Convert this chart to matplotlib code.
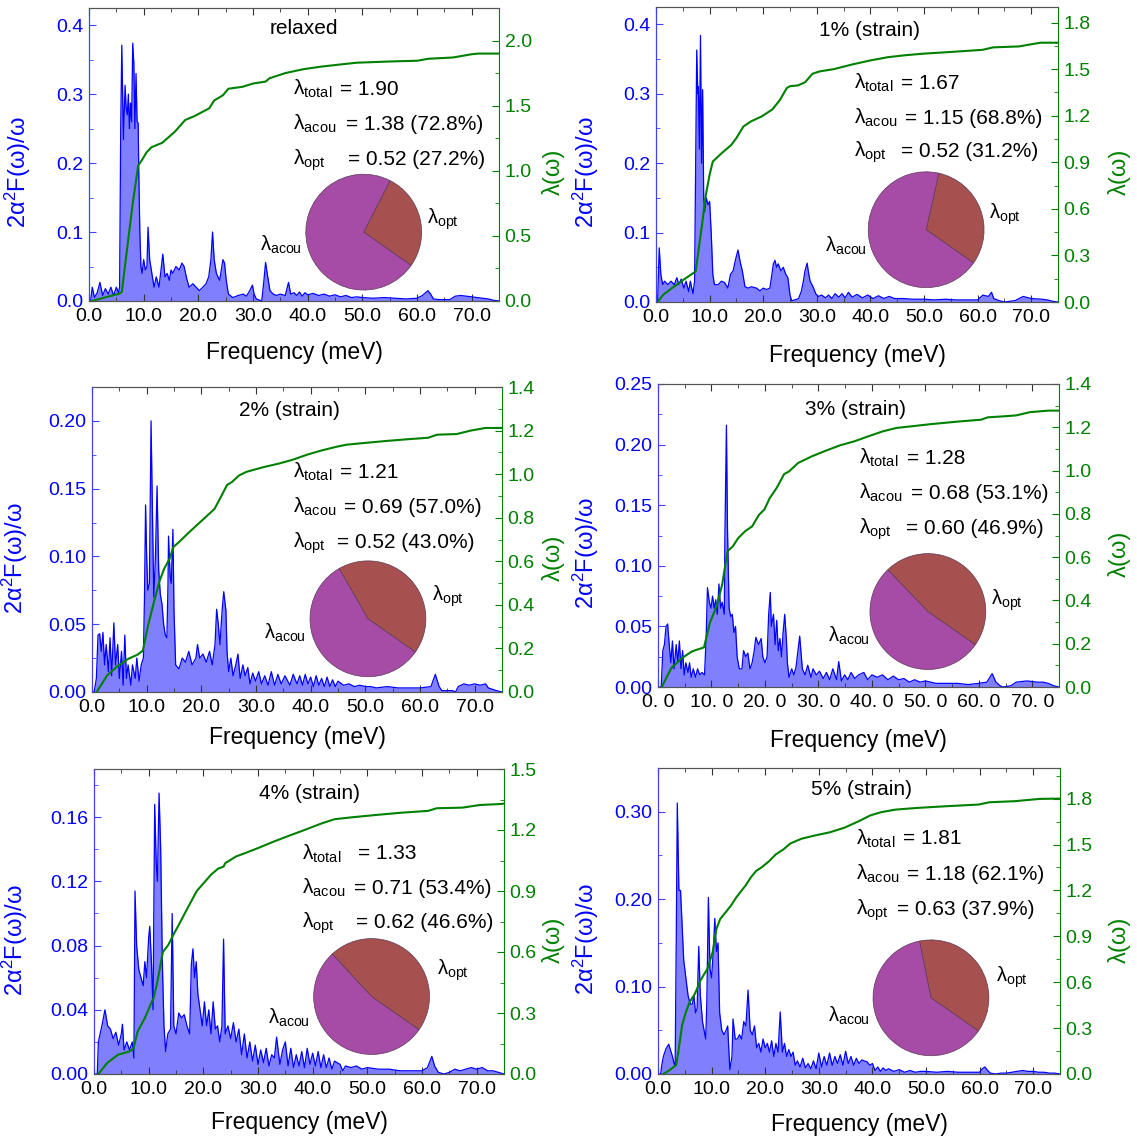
import matplotlib
matplotlib.use('Agg')
import matplotlib.pyplot as plt
from matplotlib.ticker import MultipleLocator, FormatStrFormatter, FuncFormatter

plt.rcParams.update({
    'font.family': ['Liberation Sans', 'DejaVu Sans'],
    'mathtext.fontset': 'custom',
    'mathtext.rm': 'Liberation Sans',
    'mathtext.it': 'Liberation Sans:italic',
    'mathtext.bf': 'Liberation Sans:bold',
})

W, H = 1137, 1138
BLUE_LINE = '#0000ff'
BLUE_FILL = '#8080ff'
BLUE_SPINE = '#4040ff'
GREEN = '#008000'
ACOU_C = '#a64ca6'
OPT_C = '#a6504f'

# ── data ──────────────────────────────────────────────────────────────────────

# relaxed
f_relaxed = [0.0, 0.3, 0.6, 1.0, 1.5, 2.0, 2.5, 3.0, 3.5, 4.0,
             4.5, 5.0, 5.4, 5.6, 5.8, 6.0, 6.3, 6.6, 6.8, 7.0,
             7.2, 7.4, 7.6, 7.8, 8.0, 8.2, 8.4, 8.6, 8.8, 9.0,
             9.1, 9.3, 9.5, 9.7, 10.0, 10.3, 10.6, 10.8, 11.1, 11.4,
             11.9, 12.3, 12.8, 13.1, 13.5, 13.9, 14.3, 14.7, 15.0, 15.3,
             15.9, 16.5, 17.0, 17.4, 17.8, 18.3, 19.0, 19.6, 20.2, 20.8,
             21.4, 21.9, 22.3, 22.6, 22.9, 23.3, 23.9, 24.5, 24.8, 25.1,
             25.5, 26.3, 27.3, 28.2, 28.8, 29.4, 29.9, 30.2, 30.6, 31.6,
             32.0, 32.3, 32.6, 33.1, 33.7, 34.3, 35.0, 35.9, 36.5, 36.9,
             37.5, 38.0, 38.5, 39.0, 39.5, 40.0, 41.0, 42.0, 43.0, 44.0,
             45.0, 46.0, 47.0, 48.0, 49.0, 50.0, 52.0, 54.0, 56.0, 58.0,
             60.0, 61.0, 62.0, 62.5, 63.0, 64.0, 66.0, 67.0, 68.0, 69.0,
             70.0, 71.0, 72.0, 73.0, 74.0, 75.0]
a2f_relaxed = [0.0, 0.0, 0.02, 0.005, 0.012, 0.027, 0.008, 0.018, 0.01, 0.02,
               0.008, 0.02, 0.012, 0.02, 0.25, 0.371, 0.234, 0.313, 0.28, 0.27,
               0.30, 0.25, 0.287, 0.26, 0.374, 0.345, 0.25, 0.33, 0.26, 0.258,
               0.19, 0.10, 0.05, 0.04, 0.06, 0.045, 0.05, 0.107, 0.06, 0.045,
               0.02, 0.035, 0.02, 0.04, 0.068, 0.035, 0.04, 0.03, 0.045, 0.04,
               0.05, 0.045, 0.055, 0.05, 0.035, 0.02, 0.025, 0.02, 0.015, 0.02,
               0.025, 0.035, 0.06, 0.1, 0.06, 0.04, 0.03, 0.06, 0.055, 0.03,
               0.01, 0.005, 0.008, 0.01, 0.007, 0.015, 0.023, 0.01, 0.003, 0.0,
               0.03, 0.056, 0.04, 0.015, 0.01, 0.008, 0.01, 0.008, 0.027, 0.01,
               0.012, 0.008, 0.013, 0.007, 0.012, 0.009, 0.011, 0.008, 0.01, 0.007,
               0.009, 0.006, 0.008, 0.005, 0.006, 0.005, 0.004, 0.005, 0.004, 0.003,
               0.004, 0.008, 0.015, 0.01, 0.003, 0.002, 0.002, 0.007, 0.008, 0.007,
               0.006, 0.005, 0.004, 0.003, 0.001, 0.0]
lf_relaxed = [0.5, 5.5, 6.0, 7.2, 8.0, 9.0, 9.8, 10.5, 11.4, 13.4,
              15.7, 17.6, 19.3, 22.0, 22.9, 24.5, 25.5, 28.1, 30.0, 32.3,
              33.0, 35.9, 39.2, 42.5, 45.7, 49.0, 52.3, 55.5, 60.1, 62.0,
              66.6, 70.0, 71.2, 75.0]
lam_relaxed = [0.0, 0.056, 0.07, 0.48, 0.75, 1.04, 1.09, 1.14, 1.18, 1.215,
               1.30, 1.39, 1.42, 1.48, 1.54, 1.58, 1.63, 1.645, 1.67, 1.685,
               1.71, 1.75, 1.78, 1.80, 1.815, 1.83, 1.835, 1.84, 1.845, 1.86,
               1.87, 1.895, 1.90, 1.90]

# 1% strain
f_s1 = [0.0, 0.3, 0.6, 0.9, 1.25, 1.6, 2.2, 2.8, 3.4, 3.9,
        4.25, 4.7, 5.2, 5.6, 6.1, 6.4, 6.9, 7.2, 7.4, 7.6,
        7.8, 7.9, 8.1, 8.3, 8.5, 8.7, 8.9, 9.1, 9.4, 9.7,
        10.0, 10.3, 10.6, 10.9, 11.6, 12.2, 12.8, 13.4, 13.9, 14.4,
        14.8, 15.3, 15.7, 16.1, 16.6, 17.2, 17.8, 18.75, 19.4, 20.0,
        20.6, 21.25, 21.9, 22.2, 22.5, 22.8, 23.3, 23.75, 24.2, 24.6,
        25.0, 25.3, 25.9, 26.6, 27.1, 27.5, 27.8, 28.2, 28.4, 28.75,
        29.1, 29.4, 29.8, 30.3, 30.9, 31.6, 32.2, 32.8, 33.4, 34.1,
        34.7, 35.3, 35.9, 36.6, 37.5, 38.5, 39.5, 40.5, 41.5, 42.5,
        43.5, 44.5, 46.0, 48.0, 50.0, 52.0, 54.0, 56.0, 58.0, 60.0,
        61.0, 62.0, 62.6, 63.0, 64.0, 65.0, 67.0, 68.5, 70.0, 72.0,
        73.0, 74.0, 75.0]
a2f_s1 = [0.0, 0.0, 0.078, 0.04, 0.025, 0.03, 0.025, 0.03, 0.025, 0.035,
          0.025, 0.033, 0.02, 0.03, 0.015, 0.03, 0.012, 0.03, 0.2, 0.363,
          0.3, 0.31, 0.22, 0.384, 0.2, 0.306, 0.15, 0.13, 0.15, 0.14,
          0.145, 0.1, 0.04, 0.025, 0.025, 0.03, 0.028, 0.02, 0.04, 0.045,
          0.06, 0.075, 0.058, 0.045, 0.022, 0.02, 0.022, 0.02, 0.016, 0.02,
          0.018, 0.02, 0.055, 0.06, 0.05, 0.055, 0.045, 0.05, 0.04, 0.035,
          0.01, 0.002, 0.003, 0.005, 0.015, 0.03, 0.045, 0.056, 0.045, 0.03,
          0.025, 0.02, 0.012, 0.008, 0.01, 0.006, 0.01, 0.005, 0.012, 0.007,
          0.012, 0.006, 0.014, 0.007, 0.011, 0.006, 0.01, 0.005, 0.009, 0.005,
          0.008, 0.005, 0.005, 0.004, 0.004, 0.003, 0.004, 0.003, 0.003, 0.003,
          0.01, 0.008, 0.014, 0.005, 0.002, 0.0, 0.002, 0.008, 0.005, 0.004,
          0.003, 0.001, 0.0]
lf_s1 = [0.3, 1.35, 3.0, 5.0, 7.4, 8.0, 8.6, 9.25, 10.0, 10.6,
         12.3, 14.0, 15.0, 16.3, 17.7, 19.7, 21.7, 23.1, 24.4, 25.0,
         26.5, 27.8, 29.2, 30.5, 33.2, 36.6, 40.0, 43.3, 46.7, 50.1,
         54.8, 60.9, 62.9, 67.7, 71.7, 75.0]
lam_s1 = [0.0, 0.047, 0.09, 0.14, 0.197, 0.35, 0.5, 0.68, 0.82, 0.905,
          0.96, 1.01, 1.056, 1.13, 1.163, 1.195, 1.24, 1.30, 1.378, 1.39,
          1.395, 1.415, 1.47, 1.485, 1.50, 1.53, 1.556, 1.577, 1.59, 1.60,
          1.61, 1.624, 1.64, 1.646, 1.67, 1.67]

# 2% strain
f_s2 = [0.0, 0.4, 0.8, 1.1, 1.4, 1.7, 2.0, 2.3, 2.6, 3.0,
        3.3, 3.6, 4.0, 4.3, 4.7, 5.0, 5.4, 5.7, 6.0, 6.3,
        6.6, 7.1, 7.4, 7.9, 8.2, 8.6, 9.0, 9.4, 9.6, 9.8,
        10.0, 10.2, 10.5, 10.8, 11.1, 11.3, 11.6, 11.9, 12.2, 12.5,
        12.8, 13.1, 13.4, 13.7, 13.9, 14.0, 14.3, 14.5, 14.8, 15.0,
        15.3, 15.9, 16.5, 17.1, 17.7, 18.3, 19.0, 19.3, 19.7, 20.3,
        20.9, 21.5, 22.0, 22.5, 22.8, 23.1, 23.4, 23.8, 24.1, 24.5,
        24.7, 25.0, 25.4, 25.8, 26.3, 26.7, 27.1, 27.6, 28.0, 28.5,
        28.9, 29.4, 29.9, 30.5, 31.0, 31.6, 32.2, 32.8, 33.4, 34.0,
        34.6, 35.3, 36.2, 36.8, 37.5, 38.0, 38.5, 39.0, 39.5, 40.0,
        40.5, 41.0, 41.5, 42.0, 42.5, 43.0, 43.5, 44.0, 44.5, 45.0,
        46.0, 47.0, 48.0, 49.0, 50.0, 51.0, 52.0, 54.0, 56.0, 58.0,
        60.0, 62.0, 62.8, 63.5, 64.0, 66.0, 66.5, 67.0, 68.0, 69.0,
        70.0, 71.0, 72.0, 72.5, 74.0, 75.0]
a2f_s2 = [0.0, 0.0, 0.01, 0.042, 0.043, 0.03, 0.044, 0.02, 0.035, 0.015,
          0.04, 0.012, 0.051, 0.02, 0.035, 0.01, 0.03, 0.005, 0.042, 0.01,
          0.02, 0.005, 0.02, 0.01, 0.025, 0.008, 0.02, 0.025, 0.07, 0.138,
          0.1, 0.075, 0.08, 0.2, 0.12, 0.07, 0.1, 0.152, 0.09, 0.072,
          0.065, 0.05, 0.042, 0.04, 0.08, 0.115, 0.085, 0.08, 0.12, 0.06,
          0.02, 0.017, 0.025, 0.022, 0.03, 0.02, 0.025, 0.035, 0.025, 0.028,
          0.022, 0.03, 0.02, 0.035, 0.061, 0.05, 0.035, 0.06, 0.074, 0.06,
          0.03, 0.015, 0.025, 0.012, 0.02, 0.028, 0.01, 0.02, 0.012, 0.018,
          0.006, 0.014, 0.008, 0.015, 0.006, 0.012, 0.005, 0.015, 0.005, 0.013,
          0.006, 0.012, 0.005, 0.013, 0.006, 0.012, 0.005, 0.013, 0.006, 0.011,
          0.004, 0.012, 0.005, 0.01, 0.004, 0.011, 0.004, 0.009, 0.004, 0.008,
          0.005, 0.006, 0.004, 0.005, 0.004, 0.004, 0.003, 0.004, 0.003, 0.003,
          0.003, 0.004, 0.013, 0.004, 0.001, 0.001, 0.0, 0.004, 0.006, 0.005,
          0.006, 0.005, 0.006, 0.003, 0.001, 0.0]
lf_s2 = [0.85, 2.8, 4.8, 6.7, 8.3, 9.3, 10.3, 11.3, 12.3, 13.2,
         14.2, 14.9, 15.9, 17.8, 19.8, 21.1, 22.4, 23.4, 24.7, 25.6,
         26.9, 28.2, 29.6, 31.5, 34.1, 36.7, 39.3, 41.9, 44.6, 46.5,
         49.8, 53.7, 57.6, 61.5, 63.1, 66.7, 69.3, 72.0, 75.0]
lam_s2 = [0.0, 0.077, 0.122, 0.153, 0.171, 0.19, 0.31, 0.41, 0.505, 0.566,
          0.612, 0.666, 0.688, 0.734, 0.78, 0.81, 0.84, 0.887, 0.95, 0.964,
          0.994, 1.01, 1.02, 1.033, 1.048, 1.066, 1.089, 1.108, 1.125, 1.135,
          1.143, 1.152, 1.16, 1.167, 1.181, 1.184, 1.20, 1.212, 1.212]

# 3% strain
f_s3 = [0.0, 0.6, 0.9, 1.2, 1.5, 1.8, 2.1, 2.4, 2.7, 3.0,
        3.4, 3.7, 4.0, 4.3, 4.6, 4.9, 5.2, 5.6, 5.9, 6.2,
        6.6, 7.0, 7.4, 7.8, 8.2, 8.7, 9.0, 9.25, 9.6, 9.9,
        10.2, 10.5, 10.8, 11.1, 11.4, 11.7, 12.0, 12.4, 12.5, 12.8,
        13.0, 13.3, 13.6, 13.9, 14.2, 14.5, 14.8, 15.2, 15.7, 16.0,
        16.4, 16.8, 17.2, 17.6, 18.0, 18.3, 18.8, 19.3, 19.6, 20.0,
        20.4, 20.7, 21.0, 21.2, 21.6, 21.9, 22.2, 22.5, 22.8, 23.1,
        23.4, 23.7, 24.0, 24.2, 24.5, 25.0, 25.4, 25.8, 26.5, 27.0,
        27.5, 28.0, 28.6, 29.0, 29.6, 30.2, 30.9, 31.5, 32.1, 32.7,
        33.4, 33.8, 34.3, 34.9, 35.5, 36.1, 36.8, 37.5, 38.5, 39.2,
        40.0, 41.0, 42.0, 43.0, 44.0, 45.0, 46.0, 47.0, 48.0, 49.0,
        50.0, 52.0, 54.0, 56.0, 58.0, 60.0, 61.5, 62.5, 63.2, 64.0,
        64.5, 66.0, 67.0, 69.0, 71.0, 72.0, 73.0, 74.0, 75.0]
a2f_s3 = [0.0, 0.0, 0.03, 0.035, 0.05, 0.052, 0.035, 0.02, 0.038, 0.015,
          0.035, 0.02, 0.038, 0.015, 0.03, 0.01, 0.02, 0.012, 0.02, 0.008,
          0.015, 0.008, 0.015, 0.01, 0.012, 0.01, 0.04, 0.082, 0.07, 0.065,
          0.075, 0.065, 0.072, 0.06, 0.085, 0.065, 0.07, 0.06, 0.12, 0.216,
          0.13, 0.065, 0.058, 0.06, 0.045, 0.05, 0.025, 0.015, 0.015, 0.03,
          0.025, 0.028, 0.015, 0.02, 0.03, 0.041, 0.035, 0.04, 0.025, 0.02,
          0.025, 0.06, 0.078, 0.05, 0.06, 0.035, 0.055, 0.03, 0.04, 0.025,
          0.045, 0.06, 0.04, 0.02, 0.008, 0.015, 0.01, 0.016, 0.042, 0.015,
          0.01, 0.018, 0.008, 0.015, 0.01, 0.013, 0.007, 0.012, 0.006, 0.015,
          0.006, 0.021, 0.005, 0.01, 0.006, 0.012, 0.007, 0.01, 0.012, 0.006,
          0.01, 0.008, 0.01, 0.006, 0.009, 0.006, 0.007, 0.004, 0.006, 0.004,
          0.005, 0.003, 0.003, 0.003, 0.002, 0.003, 0.004, 0.011, 0.004, 0.001,
          0.0, 0.001, 0.004, 0.005, 0.004, 0.004, 0.003, 0.001, 0.0]
lf_s3 = [0.7, 2.5, 4.5, 6.4, 8.6, 9.7, 11.05, 12.0, 12.5, 13.0,
         14.0, 15.0, 16.3, 17.6, 18.9, 19.9, 20.9, 22.2, 23.6, 24.5,
         26.2, 28.8, 31.4, 34.1, 36.7, 39.3, 42.0, 44.6, 47.2, 51.2,
         56.4, 60.4, 61.7, 64.3, 67.0, 69.6, 73.0, 75.0]
lam_s3 = [0.0, 0.088, 0.134, 0.165, 0.183, 0.296, 0.38, 0.473, 0.55, 0.627,
          0.65, 0.688, 0.72, 0.742, 0.796, 0.82, 0.873, 0.92, 0.984, 0.996,
          1.035, 1.066, 1.092, 1.117, 1.135, 1.158, 1.181, 1.197, 1.204, 1.215,
          1.227, 1.235, 1.246, 1.25, 1.255, 1.27, 1.277, 1.277]

# 4% strain
f_s4 = [0.0, 0.6, 0.8, 1.5, 2.0, 2.5, 3.0, 3.5, 4.0, 4.5,
        5.0, 5.2, 5.5, 6.0, 6.5, 7.0, 7.3, 7.5, 7.8, 8.2,
        8.6, 9.0, 9.3, 9.6, 10.0, 10.2, 10.5, 10.8, 11.1, 11.4,
        11.6, 11.9, 12.2, 12.5, 12.8, 13.1, 13.5, 14.0, 14.3, 14.6,
        15.0, 15.5, 16.0, 16.5, 17.0, 17.5, 17.8, 18.1, 18.4, 18.7,
        19.0, 19.4, 19.8, 20.2, 20.6, 21.0, 21.4, 21.8, 22.2, 22.6,
        23.0, 23.4, 23.7, 24.0, 24.5, 25.0, 25.5, 26.0, 26.5, 27.0,
        27.5, 28.0, 28.5, 29.0, 29.5, 30.0, 30.5, 31.0, 31.5, 32.0,
        32.5, 33.0, 33.4, 34.0, 34.5, 35.0, 35.5, 36.0, 36.5, 37.0,
        37.5, 38.0, 38.5, 39.0, 39.5, 40.0, 40.5, 41.0, 41.5, 42.0,
        42.5, 43.0, 43.5, 44.0, 45.0, 45.5, 46.0, 47.0, 48.0, 49.0,
        50.0, 52.0, 54.0, 56.0, 58.0, 60.0, 61.0, 61.8, 62.3, 63.0,
        64.0, 65.0, 66.0, 67.0, 68.0, 69.0, 70.0, 71.0, 72.0, 73.0,
        74.0, 75.0]
a2f_s4 = [0.0, 0.0, 0.02, 0.031, 0.04, 0.03, 0.028, 0.022, 0.026, 0.018,
          0.025, 0.031, 0.015, 0.02, 0.015, 0.02, 0.01, 0.114, 0.08, 0.065,
          0.06, 0.055, 0.07, 0.06, 0.085, 0.092, 0.07, 0.04, 0.168, 0.13,
          0.12, 0.175, 0.14, 0.07, 0.03, 0.014, 0.025, 0.028, 0.1, 0.03,
          0.025, 0.038, 0.035, 0.037, 0.03, 0.025, 0.068, 0.078, 0.06, 0.07,
          0.05, 0.04, 0.03, 0.045, 0.03, 0.04, 0.025, 0.045, 0.028, 0.03,
          0.02, 0.03, 0.084, 0.025, 0.03, 0.022, 0.032, 0.02, 0.028, 0.012,
          0.025, 0.01, 0.02, 0.008, 0.018, 0.006, 0.015, 0.007, 0.016, 0.005,
          0.012, 0.01, 0.023, 0.006, 0.015, 0.02, 0.005, 0.016, 0.004, 0.012,
          0.005, 0.014, 0.004, 0.016, 0.006, 0.013, 0.005, 0.014, 0.004, 0.012,
          0.004, 0.01, 0.003, 0.008, 0.006, 0.002, 0.005, 0.004, 0.005, 0.003,
          0.004, 0.003, 0.003, 0.002, 0.002, 0.002, 0.004, 0.011, 0.005, 0.001,
          0.0, 0.001, 0.003, 0.002, 0.003, 0.004, 0.003, 0.004, 0.002, 0.002,
          0.001, 0.0]
lf_s4 = [0.8, 2.4, 4.4, 6.4, 7.2, 8.0, 9.3, 10.6, 10.9, 11.6,
         12.6, 13.6, 14.5, 15.5, 16.8, 17.8, 18.8, 20.1, 21.4, 22.7,
         23.7, 24.0, 26.0, 28.0, 29.9, 32.6, 35.2, 38.5, 41.7, 44.0,
         47.0, 51.6, 56.2, 61.1, 62.7, 67.4, 70.6, 74.5, 75.0]
lam_s4 = [0.0, 0.054, 0.095, 0.11, 0.124, 0.21, 0.275, 0.357, 0.373, 0.455,
          0.60, 0.635, 0.684, 0.733, 0.80, 0.85, 0.90, 0.94, 0.98, 1.01,
          1.02, 1.037, 1.07, 1.09, 1.11, 1.14, 1.167, 1.20, 1.233, 1.253,
          1.262, 1.274, 1.285, 1.294, 1.307, 1.31, 1.323, 1.328, 1.33]

# 5% strain
f_s5 = [0.0, 0.5, 0.7, 1.0, 1.5, 2.0, 2.3, 2.7, 3.0, 3.2,
        3.4, 3.6, 3.9, 4.2, 4.5, 4.8, 5.2, 5.6, 6.0, 6.4,
        6.7, 7.0, 7.3, 7.6, 7.9, 8.3, 8.6, 8.9, 9.1, 9.4,
        9.7, 10.0, 10.3, 10.6, 10.9, 11.2, 11.5, 11.9, 12.3, 12.7,
        13.0, 13.4, 13.8, 14.0, 14.4, 14.8, 15.2, 15.6, 16.0, 16.4,
        16.8, 17.2, 17.6, 18.0, 18.4, 18.8, 19.2, 19.6, 20.0, 20.4,
        20.8, 21.2, 21.6, 22.0, 22.4, 22.8, 23.2, 23.6, 24.0, 24.4,
        24.8, 25.2, 25.6, 26.0, 26.5, 27.0, 27.5, 28.0, 28.5, 29.0,
        29.5, 30.0, 30.5, 31.0, 31.5, 32.0, 32.5, 33.0, 33.5, 34.0,
        34.5, 35.0, 35.5, 36.0, 36.5, 37.0, 37.5, 38.0, 38.5, 39.0,
        39.5, 40.0, 40.5, 41.0, 41.5, 42.0, 42.5, 43.0, 44.0, 45.0,
        46.0, 47.0, 48.0, 49.0, 50.0, 52.0, 54.0, 56.0, 58.0, 60.0,
        60.5, 61.0, 61.5, 62.0, 63.0, 64.0, 65.0, 66.0, 67.0, 68.0,
        69.0, 70.0, 71.0, 72.0, 73.0, 74.0, 75.0]
a2f_s5 = [0.0, 0.0, 0.01, 0.02, 0.029, 0.034, 0.028, 0.02, 0.012, 0.01,
          0.15, 0.31, 0.21, 0.21, 0.17, 0.13, 0.11, 0.09, 0.08, 0.08,
          0.09, 0.07, 0.075, 0.146, 0.09, 0.06, 0.05, 0.04, 0.08, 0.202,
          0.12, 0.11, 0.14, 0.178, 0.14, 0.15, 0.07, 0.05, 0.045, 0.05,
          0.055, 0.005, 0.02, 0.063, 0.04, 0.04, 0.045, 0.04, 0.06, 0.055,
          0.096, 0.05, 0.045, 0.055, 0.03, 0.035, 0.025, 0.04, 0.03, 0.035,
          0.025, 0.038, 0.02, 0.035, 0.025, 0.071, 0.025, 0.035, 0.02, 0.028,
          0.02, 0.025, 0.01, 0.015, 0.008, 0.018, 0.007, 0.012, 0.006, 0.015,
          0.006, 0.024, 0.008, 0.02, 0.01, 0.024, 0.01, 0.02, 0.012, 0.022,
          0.01, 0.026, 0.012, 0.02, 0.01, 0.018, 0.012, 0.016, 0.015, 0.014,
          0.01, 0.012, 0.004, 0.008, 0.003, 0.007, 0.004, 0.006, 0.003, 0.005,
          0.002, 0.004, 0.002, 0.003, 0.003, 0.002, 0.003, 0.002, 0.002, 0.002,
          0.006, 0.008, 0.004, 0.001, 0.0, 0.001, 0.001, 0.002, 0.003, 0.004,
          0.003, 0.003, 0.002, 0.002, 0.001, 0.001, 0.0]
lf_s5 = [1.0, 2.2, 3.4, 3.8, 4.5, 5.2, 5.9, 6.9, 7.9, 9.2,
         10.2, 10.9, 11.6, 12.6, 13.6, 14.6, 15.3, 16.3, 17.3, 18.3,
         19.3, 20.7, 22.0, 23.4, 24.7, 26.8, 29.4, 32.1, 34.8, 37.5,
         39.6, 41.6, 44.3, 48.3, 53.7, 59.8, 61.8, 66.5, 71.2, 75.0]
lam_s5 = [0.0, 0.026, 0.059, 0.145, 0.32, 0.405, 0.47, 0.525, 0.61, 0.687,
          0.796, 0.948, 1.013, 1.056, 1.10, 1.154, 1.186, 1.23, 1.284, 1.327,
          1.35, 1.39, 1.436, 1.468, 1.507, 1.538, 1.56, 1.58, 1.61, 1.653,
          1.69, 1.711, 1.728, 1.739, 1.75, 1.761, 1.776, 1.783, 1.798, 1.80]

titles = ['relaxed', '1% (strain)', '2% (strain)', '3% (strain)', '4% (strain)', '5% (strain)']
lam_total = ['1.90', '1.67', '1.21', '1.28', '1.33', '1.81']
lam_acou = ['1.38 (72.8%)', '1.15 (68.8%)', '0.69 (57.0%)', '0.68 (53.1%)', '0.71 (53.4%)', '1.18 (62.1%)']
lam_opt = ['0.52 (27.2%)', '0.52 (31.2%)', '0.52 (43.0%)', '0.60 (46.9%)', '0.62 (46.6%)', '0.63 (37.9%)']
pct_acou = [72.8, 68.8, 57.0, 53.1, 53.4, 62.1]
pct_opt = [27.2, 31.2, 43.0, 46.9, 46.6, 37.9]

# ── layout (pixel geometry measured on the reference) ────────────────────────

LAYOUT = [
    dict(box=(89, 499, 8, 301), ylim=0.425, y2lim=2.25, yt=(0.1, 0.05), y2t=(0.5, 0.25), fmt='%.1f',
         title=(0.523, 0.929), txt=(0.497, [0.606, 0.626, 0.632], [0.703, 0.584, 0.465]),
         pie=(0.670, 0.235), acou=(0.418, 0.172), opt=(0.824, 0.263),
         ylab=-0.137, y2lab=1.105, xlab=-0.135),
    dict(box=(656, 1058, 7, 302), ylim=0.425, y2lim=1.90, yt=(0.1, 0.05), y2t=(0.3, 0.15), fmt='%.1f',
         title=(0.532, 0.921), txt=(0.492, [0.600, 0.606, 0.609], [0.723, 0.604, 0.491]),
         pie=(0.672, 0.245), acou=(0.420, 0.171), opt=(0.829, 0.284),
         ylab=-0.137, y2lab=1.124, xlab=-0.144),
    dict(box=(92, 502, 387, 692), ylim=0.225, y2lim=1.40, yt=(0.05, 0.025), y2t=(0.2, 0.1), fmt='%.2f',
         title=(0.482, 0.923), txt=(0.490, [0.595, 0.602, 0.598], [0.702, 0.587, 0.472]),
         pie=(0.673, 0.240), acou=(0.420, 0.174), opt=(0.830, 0.299),
         ylab=-0.151, y2lab=1.098, xlab=-0.110),
    dict(box=(658, 1059, 384, 687), ylim=0.25, y2lim=1.40, yt=(0.05, 0.025), y2t=(0.2, 0.1), fmt='%.2f',
         title=(0.493, 0.915), txt=(0.502, [0.619, 0.614, 0.619], [0.736, 0.621, 0.505]),
         pie=(0.673, 0.249), acou=(0.423, 0.150), opt=(0.830, 0.271),
         ylab=-0.142, y2lab=1.122, xlab=-0.137, spaced=True),
    dict(box=(94, 504, 769, 1074), ylim=0.19, y2lim=1.50, yt=(0.04, 0.02), y2t=(0.3, 0.15), fmt='%.2f',
         title=(0.525, 0.920), txt=(0.507, [0.643, 0.634, 0.638], [0.704, 0.590, 0.480]),
         pie=(0.677, 0.254), acou=(0.425, 0.166), opt=(0.836, 0.324),
         ylab=-0.156, y2lab=1.093, xlab=-0.120),
    dict(box=(658, 1060, 768, 1074), ylim=0.35, y2lim=2.0, yt=(0.1, 0.05), y2t=(0.3, 0.15), fmt='%.2f',
         title=(0.505, 0.929), txt=(0.492, [0.609, 0.604, 0.595], [0.750, 0.635, 0.521]),
         pie=(0.679, 0.249), acou=(0.424, 0.170), opt=(0.840, 0.300),
         ylab=-0.142, y2lab=1.119, xlab=-0.126),
]

SPECTRA = [(f_relaxed, a2f_relaxed), (f_s1, a2f_s1), (f_s2, a2f_s2),
           (f_s3, a2f_s3), (f_s4, a2f_s4), (f_s5, a2f_s5)]
LAMBDAS = [(lf_relaxed, lam_relaxed), (lf_s1, lam_s1), (lf_s2, lam_s2),
           (lf_s3, lam_s3), (lf_s4, lam_s4), (lf_s5, lam_s5)]

PIE_D = 117  # px
TICK_FS = 14
ANN_FS = 15
EQ_GAP = 8   # px, minimum gap between subscript and "="


def draw_panel(fig, renderer, i):
    lay = LAYOUT[i]
    x0, x1, yt, yb = lay['box']
    pos = [x0 / W, 1 - yb / H, (x1 - x0) / W, (yb - yt) / H]
    ax = fig.add_axes(pos)
    f, a = SPECTRA[i]
    ax.fill_between(f, a, 0, color=BLUE_FILL, lw=0)
    ax.plot(f, a, color=BLUE_LINE, lw=0.9)
    ax.set_xlim(0, 75)
    ax.set_ylim(0, lay['ylim'])

    ax.xaxis.set_major_locator(MultipleLocator(10))
    ax.xaxis.set_minor_locator(MultipleLocator(5))
    if lay.get('spaced'):
        ax.xaxis.set_major_formatter(FuncFormatter(lambda v, p: ('%.1f' % v).replace('.', '. ')))
    else:
        ax.xaxis.set_major_formatter(FormatStrFormatter('%.1f'))
    ax.yaxis.set_major_locator(MultipleLocator(lay['yt'][0]))
    ax.yaxis.set_minor_locator(MultipleLocator(lay['yt'][1]))
    ax.yaxis.set_major_formatter(FormatStrFormatter(lay['fmt']))
    ax.tick_params(axis='x', which='both', direction='in', top=True, labelsize=TICK_FS, pad=5,
                   colors='#333333', labelcolor='black')
    ax.tick_params(axis='y', which='both', direction='in', colors=BLUE_SPINE, labelcolor=BLUE_LINE,
                   labelsize=TICK_FS, pad=4)
    ax.tick_params(which='major', length=5)
    ax.tick_params(which='minor', length=3)
    ax.spines['left'].set_color(BLUE_SPINE)
    ax.spines['top'].set_color('#555555')
    ax.spines['bottom'].set_color('#555555')
    ax.spines['right'].set_visible(False)

    ax.set_xlabel('Frequency (meV)', fontsize=16.5)
    ax.xaxis.set_label_coords(0.5, lay['xlab'])
    ax.set_ylabel('2α$^{2}$F(ω)/ω', fontsize=17, color=BLUE_LINE)
    ax.yaxis.set_label_coords(lay['ylab'], 0.44)

    ax2 = ax.twinx()
    lf, lam = LAMBDAS[i]
    ax2.plot(lf, lam, color=GREEN, lw=1.5)
    ax2.set_ylim(0, lay['y2lim'])
    ax2.yaxis.set_major_locator(MultipleLocator(lay['y2t'][0]))
    ax2.yaxis.set_minor_locator(MultipleLocator(lay['y2t'][1]))
    ax2.yaxis.set_major_formatter(FormatStrFormatter('%.1f'))
    ax2.tick_params(axis='y', which='both', direction='in', colors=GREEN, labelcolor=GREEN,
                    labelsize=TICK_FS, pad=4)
    ax2.tick_params(which='major', length=5)
    ax2.tick_params(which='minor', length=3)
    ax2.spines['right'].set_color(GREEN)
    ax2.spines['left'].set_color(BLUE_SPINE)
    ax2.spines['top'].set_color('#555555')
    ax2.spines['bottom'].set_color('#555555')
    ax2.set_ylabel('λ(ω)', fontsize=17, color=GREEN)
    ax2.yaxis.set_label_coords(lay['y2lab'], 0.44)

    tr = ax2.transAxes
    inv = tr.inverted()
    ax2.text(*lay['title'], titles[i], transform=tr, ha='center', va='center', fontsize=15)
    lx, eqx, ys = lay['txt']
    names = ['total', 'acou', 'opt']
    vals = [lam_total[i], lam_acou[i], lam_opt[i]]
    for name, val, ex, y in zip(names, vals, eqx, ys):
        t = ax2.text(lx, y, 'λ$_{\\rm %s}$' % name, transform=tr, ha='left', va='baseline', fontsize=ANN_FS)
        bb = t.get_window_extent(renderer)
        ex = max(ex, inv.transform((bb.x1 + EQ_GAP, bb.y0))[0])
        ax2.text(ex, y, '= ' + val, transform=tr, ha='left', va='baseline', fontsize=ANN_FS)
    ax2.text(*lay['acou'], 'λ$_{\\rm acou}$', transform=tr, ha='left', va='baseline', fontsize=14.5)
    ax2.text(*lay['opt'], 'λ$_{\\rm opt}$', transform=tr, ha='left', va='baseline', fontsize=14.5)

    # inset pie
    cx = x0 + lay['pie'][0] * (x1 - x0)
    cy = yb - lay['pie'][1] * (yb - yt)
    pax = fig.add_axes([(cx - PIE_D / 2) / W, 1 - (cy + PIE_D / 2) / H, PIE_D / W, PIE_D / H])
    pax.pie([pct_opt[i], pct_acou[i]], colors=[OPT_C, ACOU_C], startangle=-35, counterclock=True,
            wedgeprops=dict(edgecolor='#5a3a55', linewidth=0.5))
    pax.set_xlim(-1.01, 1.01)
    pax.set_ylim(-1.01, 1.01)
    pax.set_aspect('equal')


def main():
    fig = plt.figure(figsize=(W / 100, H / 100), dpi=100)
    renderer = fig.canvas.get_renderer()
    for i in range(6):
        draw_panel(fig, renderer, i)
    fig.savefig('out.png', dpi=100)
    plt.close(fig)


if __name__ == '__main__':
    main()
